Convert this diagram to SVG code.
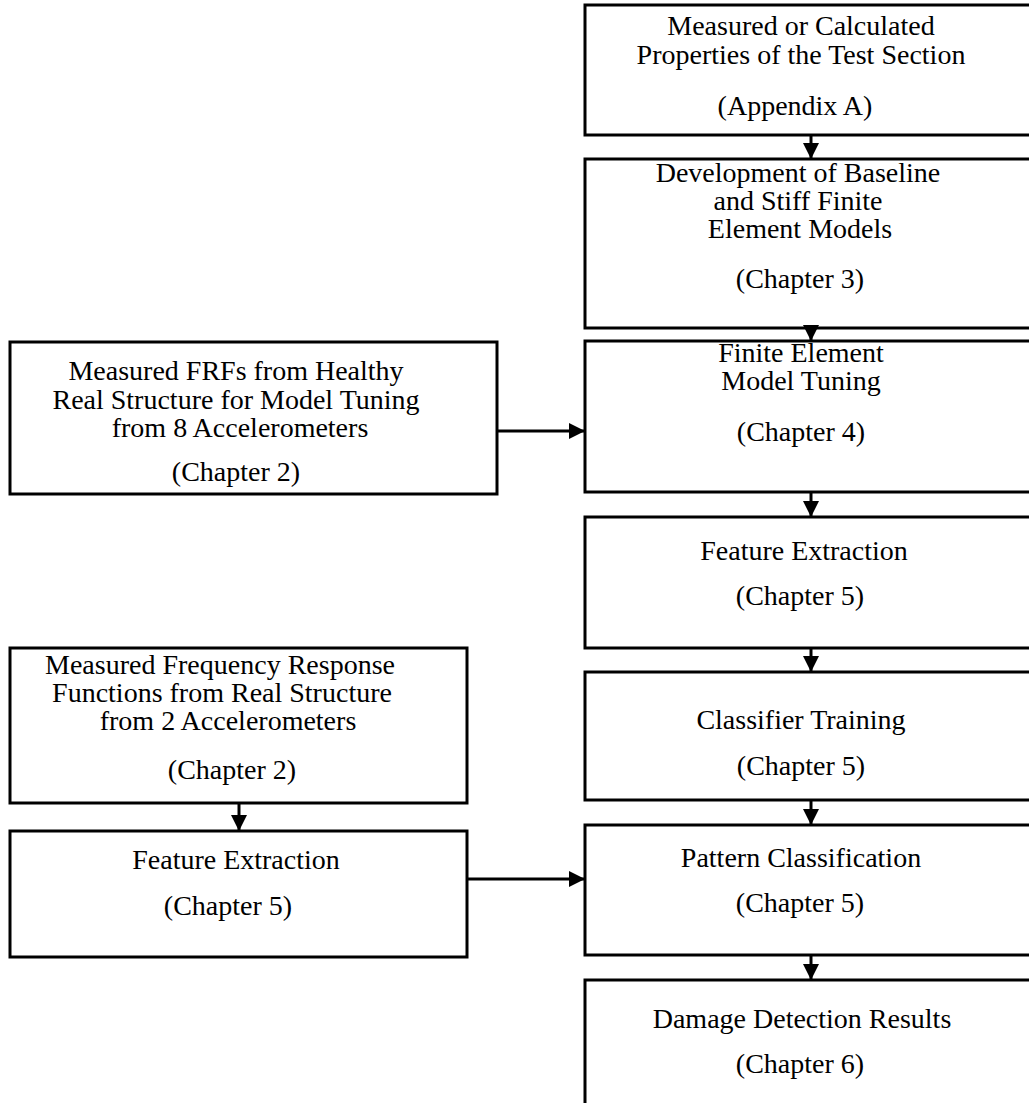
<svg xmlns="http://www.w3.org/2000/svg" width="1029" height="1103" viewBox="0 0 1029 1103">
<style>
.box{fill:#fff;stroke:#000;stroke-width:3}
.t{font-family:"Liberation Serif","Times New Roman",serif;font-size:28px;fill:#000;text-anchor:middle}
.c{fill:none;stroke:#000;stroke-width:3}
</style>
<defs>
<marker id="ah" markerWidth="16" markerHeight="16" viewBox="0 0 16 16" refX="15" refY="8" orient="auto" markerUnits="userSpaceOnUse">
<path d="M0,0 L16,8 L0,16 Z" fill="#000"/>
</marker>
</defs>
<rect width="1029" height="1103" fill="#fff"/>
<g id="n1"><rect class="box" x="585" y="5" width="460" height="130"/>
<text class="t" x="801" y="35">Measured or Calculated</text>
<text class="t" x="801" y="64">Properties of the Test Section</text>
<text class="t" x="795" y="115">(Appendix A)</text></g>
<g id="n2"><rect class="box" x="585" y="159" width="460" height="169"/>
<text class="t" x="798" y="182">Development of Baseline</text>
<text class="t" x="798" y="210">and Stiff  Finite</text>
<text class="t" x="800" y="238">Element Models</text>
<text class="t" x="800" y="288">(Chapter 3)</text></g>
<g id="n3"><rect class="box" x="585" y="341" width="460" height="151"/>
<text class="t" x="801" y="362">Finite Element</text>
<text class="t" x="801" y="390">Model Tuning</text>
<text class="t" x="801" y="441">(Chapter 4)</text></g>
<g id="n4"><rect class="box" x="585" y="517" width="460" height="131"/>
<text class="t" x="804" y="560">Feature Extraction</text>
<text class="t" x="800" y="605">(Chapter 5)</text></g>
<g id="n5"><rect class="box" x="585" y="672" width="460" height="128"/>
<text class="t" x="801" y="729">Classifier Training</text>
<text class="t" x="801" y="775">(Chapter 5)</text></g>
<g id="n6"><rect class="box" x="585" y="825" width="460" height="130"/>
<text class="t" x="801" y="867">Pattern Classification</text>
<text class="t" x="800" y="912">(Chapter 5)</text></g>
<g id="n7"><rect class="box" x="585" y="980" width="460" height="140"/>
<text class="t" x="802" y="1028">Damage Detection Results</text>
<text class="t" x="800" y="1073">(Chapter 6)</text></g>
<g id="nA"><rect class="box" x="10" y="342" width="487" height="152"/>
<text class="t" x="236" y="380">Measured FRFs from Healthy</text>
<text class="t" x="236" y="409">Real Structure for Model Tuning</text>
<text class="t" x="240" y="437">from 8 Accelerometers</text>
<text class="t" x="236" y="481">(Chapter 2)</text></g>
<g id="nB"><rect class="box" x="10" y="648" width="457" height="155"/>
<text class="t" x="220" y="674">Measured Frequency Response</text>
<text class="t" x="222" y="702">Functions from Real Structure</text>
<text class="t" x="228" y="730">from 2 Accelerometers</text>
<text class="t" x="232" y="779">(Chapter 2)</text></g>
<g id="nC"><rect class="box" x="10" y="831" width="457" height="126"/>
<text class="t" x="236" y="869">Feature Extraction</text>
<text class="t" x="228" y="915">(Chapter 5)</text></g>
<g id="connectors">
<line class="c" x1="811" y1="135" x2="811" y2="158" marker-end="url(#ah)"/>
<line class="c" x1="811" y1="328" x2="811" y2="340" marker-end="url(#ah)"/>
<line class="c" x1="811" y1="492" x2="811" y2="516" marker-end="url(#ah)"/>
<line class="c" x1="811" y1="648" x2="811" y2="671" marker-end="url(#ah)"/>
<line class="c" x1="811" y1="800" x2="811" y2="824" marker-end="url(#ah)"/>
<line class="c" x1="811" y1="955" x2="811" y2="979" marker-end="url(#ah)"/>
<line class="c" x1="239" y1="803" x2="239" y2="830" marker-end="url(#ah)"/>
<line class="c" x1="497" y1="431" x2="584" y2="431" marker-end="url(#ah)"/>
<line class="c" x1="467" y1="879" x2="584" y2="879" marker-end="url(#ah)"/>
</g>
</svg>
